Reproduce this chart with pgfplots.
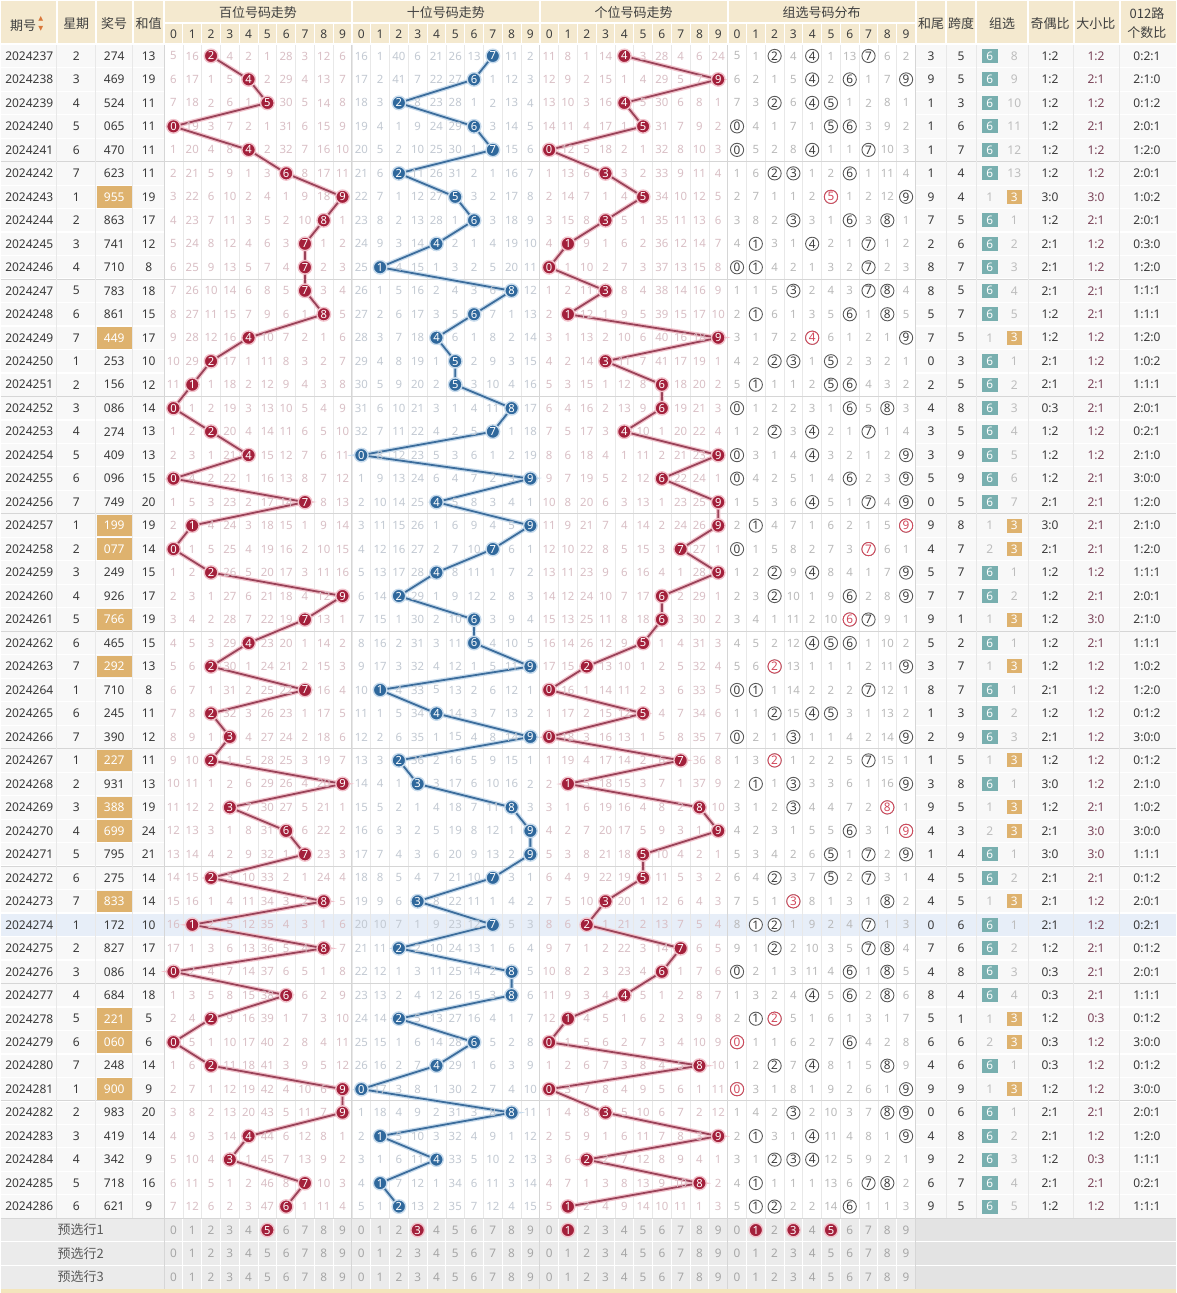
\documentclass[border=0pt]{standalone}
\usepackage{pgfplots}
\pgfplotsset{compat=1.18}
\usepackage{pgfplotstable}
\usepackage{fontspec}
\setmainfont{Noto Sans}
\newfontfamily\cjk{Noto Sans CJK SC}
\newfontfamily\dejavu{DejaVu Sans}

\definecolor{hdrbg}{HTML}{F4E9CF}
\definecolor{hdrtx}{HTML}{3F3F3F}
\definecolor{bodytx}{HTML}{3A3A3A}
\definecolor{bodybg}{HTML}{F8F8F8}
\definecolor{missR}{HTML}{D9BFC5}
\definecolor{missB}{HTML}{C2C9D2}
\definecolor{missG}{HTML}{B9B9B9}
\definecolor{ballR}{HTML}{A3203B}
\definecolor{haloR}{HTML}{F1C3CC}
\definecolor{lineR}{HTML}{9A4359}
\definecolor{ballB}{HTML}{2F689C}
\definecolor{haloB}{HTML}{C8DBEC}
\definecolor{lineB}{HTML}{3C6D9C}
\definecolor{teal6}{HTML}{78AFAF}
\definecolor{tan3}{HTML}{DEB26E}
\definecolor{gridc}{HTML}{E8E8E8}
\definecolor{sepc}{HTML}{D6D6D6}
\definecolor{hilite}{HTML}{E7EEF8}
\definecolor{bsc}{HTML}{7A4358}
\definecolor{presel}{HTML}{EBEBEB}
\definecolor{pretx}{HTML}{A6A6A6}
\definecolor{zcirc}{HTML}{5A5A5A}
\definecolor{zred}{HTML}{D2495C}
\definecolor{sortc}{HTML}{D9773A}
\definecolor{yline}{HTML}{F3E5BC}
\definecolor{blurbg}{HTML}{E3E3E3}
\definecolor{lbltx}{HTML}{5A5A5A}
\definecolor{mgray}{HTML}{BDBDBD}

\pgfdeclareplotmark{numbox}{\pgfpathrectangle{\pgfpoint{-8.8pt}{-5.4pt}}{\pgfpoint{17.6pt}{10.8pt}}\pgfusepathqfill}
\pgfdeclareplotmark{zbox}{\pgfpathrectangle{\pgfpoint{-3.9pt}{-3.5pt}}{\pgfpoint{7.8pt}{7pt}}\pgfusepathqfill}

\pgfplotsset{
 txt/.style={draw=none, mark=none, nodes near coords, point meta=explicit symbolic,
   nodes near coords align={center}, restrict y to domain=-5:60,
   every node near coord/.append style={anchor=center, inner sep=0pt, font=\fontsize{6.0}{6.0}\selectfont, text=bodytx}},
 fsz/.style={every node near coord/.append style={font=\fontsize{#1}{#1}\selectfont}},
 tcol/.style={every node near coord/.append style={text=#1}},
 balls/.style n args={3}{color=#1, line width=0.9pt, mark=*, mark size=3.4pt,
   mark options={fill=#2, draw=#3, line width=0.7pt, solid},
   nodes near coords, point meta=explicit symbolic, nodes near coords align={center},
   every node near coord/.append style={anchor=center, inner sep=0pt, text=white, font=\bfseries\fontsize{5.6}{5.6}\selectfont}},
 halo/.style={color=#1, line width=2.2pt, mark=none},
}
\tikzset{
 hd/.style={font=\cjk\fontsize{6.5}{6.5}\selectfont, text=hdrtx, inner sep=0pt, anchor=center},
 hdd/.style={font=\fontsize{6.0}{6.0}\selectfont, text=hdrtx, inner sep=0pt, anchor=center},
 pre/.style={font=\fontsize{5.9}{5.9}\selectfont, text=pretx, inner sep=0pt, anchor=center},
}

\pgfplotstableread{
r id wd num sum h t u hw sp g m oe bs road
1 2024237 2 274 13 2 7 4 3 5 6 8 1:2 1:2 0:2:1
2 2024238 3 469 19 4 6 9 9 5 6 9 1:2 2:1 2:1:0
3 2024239 4 524 11 5 2 4 1 3 6 10 1:2 1:2 0:1:2
4 2024240 5 065 11 0 6 5 1 6 6 11 1:2 2:1 2:0:1
5 2024241 6 470 11 4 7 0 1 7 6 12 1:2 1:2 1:2:0
6 2024242 7 623 11 6 2 3 1 4 6 13 1:2 1:2 2:0:1
7 2024243 1 955 19 9 5 5 9 4 3 1 3:0 3:0 1:0:2
8 2024244 2 863 17 8 6 3 7 5 6 1 1:2 2:1 2:0:1
9 2024245 3 741 12 7 4 1 2 6 6 2 2:1 1:2 0:3:0
10 2024246 4 710 8 7 1 0 8 7 6 3 2:1 1:2 1:2:0
11 2024247 5 783 18 7 8 3 8 5 6 4 2:1 2:1 1:1:1
12 2024248 6 861 15 8 6 1 5 7 6 5 1:2 2:1 1:1:1
13 2024249 7 449 17 4 4 9 7 5 3 1 1:2 1:2 1:2:0
14 2024250 1 253 10 2 5 3 0 3 6 1 2:1 1:2 1:0:2
15 2024251 2 156 12 1 5 6 2 5 6 2 2:1 2:1 1:1:1
16 2024252 3 086 14 0 8 6 4 8 6 3 0:3 2:1 2:0:1
17 2024253 4 274 13 2 7 4 3 5 6 4 1:2 1:2 0:2:1
18 2024254 5 409 13 4 0 9 3 9 6 5 1:2 1:2 2:1:0
19 2024255 6 096 15 0 9 6 5 9 6 6 1:2 2:1 3:0:0
20 2024256 7 749 20 7 4 9 0 5 6 7 2:1 2:1 1:2:0
21 2024257 1 199 19 1 9 9 9 8 3 1 3:0 2:1 2:1:0
22 2024258 2 077 14 0 7 7 4 7 3 2 2:1 2:1 1:2:0
23 2024259 3 249 15 2 4 9 5 7 6 1 1:2 1:2 1:1:1
24 2024260 4 926 17 9 2 6 7 7 6 2 1:2 2:1 2:0:1
25 2024261 5 766 19 7 6 6 9 1 3 1 1:2 3:0 2:1:0
26 2024262 6 465 15 4 6 5 5 2 6 1 1:2 2:1 1:1:1
27 2024263 7 292 13 2 9 2 3 7 3 1 1:2 1:2 1:0:2
28 2024264 1 710 8 7 1 0 8 7 6 1 2:1 1:2 1:2:0
29 2024265 6 245 11 2 4 5 1 3 6 2 1:2 1:2 0:1:2
30 2024266 7 390 12 3 9 0 2 9 6 3 2:1 1:2 3:0:0
31 2024267 1 227 11 2 2 7 1 5 3 1 1:2 1:2 0:1:2
32 2024268 2 931 13 9 3 1 3 8 6 1 3:0 1:2 2:1:0
33 2024269 3 388 19 3 8 8 9 5 3 1 1:2 2:1 1:0:2
34 2024270 4 699 24 6 9 9 4 3 3 2 2:1 3:0 3:0:0
35 2024271 5 795 21 7 9 5 1 4 6 1 3:0 3:0 1:1:1
36 2024272 6 275 14 2 7 5 4 5 6 2 2:1 2:1 0:1:2
37 2024273 7 833 14 8 3 3 4 5 3 1 2:1 1:2 2:0:1
38 2024274 1 172 10 1 7 2 0 6 6 1 2:1 1:2 0:2:1
39 2024275 2 827 17 8 2 7 7 6 6 2 1:2 2:1 0:1:2
40 2024276 3 086 14 0 8 6 4 8 6 3 0:3 2:1 2:0:1
41 2024277 4 684 18 6 8 4 8 4 6 4 0:3 2:1 1:1:1
42 2024278 5 221 5 2 2 1 5 1 3 1 1:2 0:3 0:1:2
43 2024279 6 060 6 0 6 0 6 6 3 2 0:3 1:2 3:0:0
44 2024280 7 248 14 2 4 8 4 6 6 1 0:3 1:2 0:1:2
45 2024281 1 900 9 9 0 0 9 9 3 1 1:2 1:2 3:0:0
46 2024282 2 983 20 9 8 3 0 6 6 1 2:1 2:1 2:0:1
47 2024283 3 419 14 4 1 9 4 8 6 2 2:1 1:2 1:2:0
48 2024284 4 342 9 3 4 2 9 2 6 3 1:2 0:3 1:1:1
49 2024285 5 718 16 7 1 8 6 7 6 4 2:1 2:1 0:2:1
50 2024286 6 621 9 6 2 1 9 5 6 5 1:2 1:2 1:1:1
}\main

% hundreds omission (0 = drawn)
\pgfplotstableread{
r c0 c1 c2 c3 c4 c5 c6 c7 c8 c9
1 5 16 0 4 2 1 28 3 12 6
2 6 17 1 5 0 2 29 4 13 7
3 7 18 2 6 1 0 30 5 14 8
4 0 19 3 7 2 1 31 6 15 9
5 1 20 4 8 0 2 32 7 16 10
6 2 21 5 9 1 3 0 8 17 11
7 3 22 6 10 2 4 1 9 18 0
8 4 23 7 11 3 5 2 10 0 1
9 5 24 8 12 4 6 3 0 1 2
10 6 25 9 13 5 7 4 0 2 3
11 7 26 10 14 6 8 5 0 3 4
12 8 27 11 15 7 9 6 1 0 5
13 9 28 12 16 0 10 7 2 1 6
14 10 29 0 17 1 11 8 3 2 7
15 11 0 1 18 2 12 9 4 3 8
16 0 1 2 19 3 13 10 5 4 9
17 1 2 0 20 4 14 11 6 5 10
18 2 3 1 21 0 15 12 7 6 11
19 0 4 2 22 1 16 13 8 7 12
20 1 5 3 23 2 17 14 0 8 13
21 2 0 4 24 3 18 15 1 9 14
22 0 1 5 25 4 19 16 2 10 15
23 1 2 0 26 5 20 17 3 11 16
24 2 3 1 27 6 21 18 4 12 0
25 3 4 2 28 7 22 19 0 13 1
26 4 5 3 29 0 23 20 1 14 2
27 5 6 0 30 1 24 21 2 15 3
28 6 7 1 31 2 25 22 0 16 4
29 7 8 0 32 3 26 23 1 17 5
30 8 9 1 0 4 27 24 2 18 6
31 9 10 0 1 5 28 25 3 19 7
32 10 11 1 2 6 29 26 4 20 0
33 11 12 2 0 7 30 27 5 21 1
34 12 13 3 1 8 31 0 6 22 2
35 13 14 4 2 9 32 1 0 23 3
36 14 15 0 3 10 33 2 1 24 4
37 15 16 1 4 11 34 3 2 0 5
38 16 0 2 5 12 35 4 3 1 6
39 17 1 3 6 13 36 5 4 0 7
40 0 2 4 7 14 37 6 5 1 8
41 1 3 5 8 15 38 0 6 2 9
42 2 4 0 9 16 39 1 7 3 10
43 0 5 1 10 17 40 2 8 4 11
44 1 6 0 11 18 41 3 9 5 12
45 2 7 1 12 19 42 4 10 6 0
46 3 8 2 13 20 43 5 11 7 0
47 4 9 3 14 0 44 6 12 8 1
48 5 10 4 0 1 45 7 13 9 2
49 6 11 5 1 2 46 8 0 10 3
50 7 12 6 2 3 47 0 1 11 4
}\Hm

% tens omission
\pgfplotstableread{
r c0 c1 c2 c3 c4 c5 c6 c7 c8 c9
1 16 1 40 6 21 26 13 0 11 2
2 17 2 41 7 22 27 0 1 12 3
3 18 3 0 8 23 28 1 2 13 4
4 19 4 1 9 24 29 0 3 14 5
5 20 5 2 10 25 30 1 0 15 6
6 21 6 0 11 26 31 2 1 16 7
7 22 7 1 12 27 0 3 2 17 8
8 23 8 2 13 28 1 0 3 18 9
9 24 9 3 14 0 2 1 4 19 10
10 25 0 4 15 1 3 2 5 20 11
11 26 1 5 16 2 4 3 6 0 12
12 27 2 6 17 3 5 0 7 1 13
13 28 3 7 18 0 6 1 8 2 14
14 29 4 8 19 1 0 2 9 3 15
15 30 5 9 20 2 0 3 10 4 16
16 31 6 10 21 3 1 4 11 0 17
17 32 7 11 22 4 2 5 0 1 18
18 0 8 12 23 5 3 6 1 2 19
19 1 9 13 24 6 4 7 2 3 0
20 2 10 14 25 0 5 8 3 4 1
21 3 11 15 26 1 6 9 4 5 0
22 4 12 16 27 2 7 10 0 6 1
23 5 13 17 28 0 8 11 1 7 2
24 6 14 0 29 1 9 12 2 8 3
25 7 15 1 30 2 10 0 3 9 4
26 8 16 2 31 3 11 0 4 10 5
27 9 17 3 32 4 12 1 5 11 0
28 10 0 4 33 5 13 2 6 12 1
29 11 1 5 34 0 14 3 7 13 2
30 12 2 6 35 1 15 4 8 14 0
31 13 3 0 36 2 16 5 9 15 1
32 14 4 1 0 3 17 6 10 16 2
33 15 5 2 1 4 18 7 11 0 3
34 16 6 3 2 5 19 8 12 1 0
35 17 7 4 3 6 20 9 13 2 0
36 18 8 5 4 7 21 10 0 3 1
37 19 9 6 0 8 22 11 1 4 2
38 20 10 7 1 9 23 12 0 5 3
39 21 11 0 2 10 24 13 1 6 4
40 22 12 1 3 11 25 14 2 0 5
41 23 13 2 4 12 26 15 3 0 6
42 24 14 0 5 13 27 16 4 1 7
43 25 15 1 6 14 28 0 5 2 8
44 26 16 2 7 0 29 1 6 3 9
45 0 17 3 8 1 30 2 7 4 10
46 1 18 4 9 2 31 3 8 0 11
47 2 0 5 10 3 32 4 9 1 12
48 3 1 6 11 0 33 5 10 2 13
49 4 0 7 12 1 34 6 11 3 14
50 5 1 0 13 2 35 7 12 4 15
}\Tm

% units omission
\pgfplotstableread{
r c0 c1 c2 c3 c4 c5 c6 c7 c8 c9
1 11 8 1 14 0 3 28 4 6 24
2 12 9 2 15 1 4 29 5 7 0
3 13 10 3 16 0 5 30 6 8 1
4 14 11 4 17 1 0 31 7 9 2
5 0 12 5 18 2 1 32 8 10 3
6 1 13 6 0 3 2 33 9 11 4
7 2 14 7 1 4 0 34 10 12 5
8 3 15 8 0 5 1 35 11 13 6
9 4 0 9 1 6 2 36 12 14 7
10 0 1 10 2 7 3 37 13 15 8
11 1 2 11 0 8 4 38 14 16 9
12 2 0 12 1 9 5 39 15 17 10
13 3 1 13 2 10 6 40 16 18 0
14 4 2 14 0 11 7 41 17 19 1
15 5 3 15 1 12 8 0 18 20 2
16 6 4 16 2 13 9 0 19 21 3
17 7 5 17 3 0 10 1 20 22 4
18 8 6 18 4 1 11 2 21 23 0
19 9 7 19 5 2 12 0 22 24 1
20 10 8 20 6 3 13 1 23 25 0
21 11 9 21 7 4 14 2 24 26 0
22 12 10 22 8 5 15 3 0 27 1
23 13 11 23 9 6 16 4 1 28 0
24 14 12 24 10 7 17 0 2 29 1
25 15 13 25 11 8 18 0 3 30 2
26 16 14 26 12 9 0 1 4 31 3
27 17 15 0 13 10 1 2 5 32 4
28 0 16 1 14 11 2 3 6 33 5
29 1 17 2 15 12 0 4 7 34 6
30 0 18 3 16 13 1 5 8 35 7
31 1 19 4 17 14 2 6 0 36 8
32 2 0 5 18 15 3 7 1 37 9
33 3 1 6 19 16 4 8 2 0 10
34 4 2 7 20 17 5 9 3 1 0
35 5 3 8 21 18 0 10 4 2 1
36 6 4 9 22 19 0 11 5 3 2
37 7 5 10 0 20 1 12 6 4 3
38 8 6 0 1 21 2 13 7 5 4
39 9 7 1 2 22 3 14 0 6 5
40 10 8 2 3 23 4 0 1 7 6
41 11 9 3 4 0 5 1 2 8 7
42 12 0 4 5 1 6 2 3 9 8
43 0 1 5 6 2 7 3 4 10 9
44 1 2 6 7 3 8 4 5 0 10
45 0 3 7 8 4 9 5 6 1 11
46 1 4 8 0 5 10 6 7 2 12
47 2 5 9 1 6 11 7 8 3 0
48 3 6 0 2 7 12 8 9 4 1
49 4 7 1 3 8 13 9 10 0 2
50 5 0 2 4 9 14 10 11 1 3
}\Um

% group-selection distribution omission
\pgfplotstableread{
r c0 c1 c2 c3 c4 c5 c6 c7 c8 c9
1 5 1 0 4 0 1 13 0 6 2
2 6 2 1 5 0 2 0 1 7 0
3 7 3 0 6 0 0 1 2 8 1
4 0 4 1 7 1 0 0 3 9 2
5 0 5 2 8 0 1 1 0 10 3
6 1 6 0 0 1 2 0 1 11 4
7 2 7 1 1 2 0 1 2 12 0
8 3 8 2 0 3 1 0 3 0 1
9 4 0 3 1 0 2 1 0 1 2
10 0 0 4 2 1 3 2 0 2 3
11 1 1 5 0 2 4 3 0 0 4
12 2 0 6 1 3 5 0 1 0 5
13 3 1 7 2 0 6 1 2 1 0
14 4 2 0 0 1 0 2 3 2 1
15 5 0 1 1 2 0 0 4 3 2
16 0 1 2 2 3 1 0 5 0 3
17 1 2 0 3 0 2 1 0 1 4
18 0 3 1 4 0 3 2 1 2 0
19 0 4 2 5 1 4 0 2 3 0
20 1 5 3 6 0 5 1 0 4 0
21 2 0 4 7 1 6 2 1 5 0
22 0 1 5 8 2 7 3 0 6 1
23 1 2 0 9 0 8 4 1 7 0
24 2 3 0 10 1 9 0 2 8 0
25 3 4 1 11 2 10 0 0 9 1
26 4 5 2 12 0 0 0 1 10 2
27 5 6 0 13 1 1 1 2 11 0
28 0 0 1 14 2 2 2 0 12 1
29 1 1 0 15 0 0 3 1 13 2
30 0 2 1 0 1 1 4 2 14 0
31 1 3 0 1 2 2 5 0 15 1
32 2 0 1 0 3 3 6 1 16 0
33 3 1 2 0 4 4 7 2 0 1
34 4 2 3 1 5 5 0 3 1 0
35 5 3 4 2 6 0 1 0 2 0
36 6 4 0 3 7 0 2 0 3 1
37 7 5 1 0 8 1 3 1 0 2
38 8 0 0 1 9 2 4 0 1 3
39 9 1 0 2 10 3 5 0 0 4
40 0 2 1 3 11 4 0 1 0 5
41 1 3 2 4 0 5 0 2 0 6
42 2 0 0 5 1 6 1 3 1 7
43 0 1 1 6 2 7 0 4 2 8
44 1 2 0 7 0 8 1 5 0 9
45 0 3 1 8 1 9 2 6 1 0
46 1 4 2 0 2 10 3 7 0 0
47 2 0 3 1 0 11 4 8 1 0
48 3 1 0 0 0 12 5 9 2 1
49 4 0 1 1 1 13 6 0 0 2
50 5 0 0 2 2 14 0 1 1 3
}\Zm

% repeated digit (group-3 draws)
\pgfplotstableread{
r d
7 5
13 4
21 9
22 7
25 6
27 2
31 2
33 8
34 9
37 3
42 2
43 0
45 0
}\dup

% pre-selection row 1 (column index k = 10*group + digit)
\pgfplotstableread{
k d
5 5
13 3
21 1
31 1
33 3
35 5
}\pre

\begin{document}
\begin{tikzpicture}
\begin{axis}[width=588pt, height=646.5pt, scale only axis,
  xmin=0, xmax=1176, ymin=-1.3404, ymax=53.6809, y dir=reverse,
  hide axis, clip=false]

% ---------- backgrounds ----------
\fill[white] (axis cs:0,-1.3404) rectangle (axis cs:1176,53.6809);
\fill[hdrbg] (axis cs:0,-1.3404) rectangle (axis cs:1176,0.5);
\fill[bodybg] (axis cs:0,0.5) rectangle (axis cs:1176,50.5);
\fill[white] (axis cs:163.4,0.5) rectangle (axis cs:915.4,50.5);
\fill[hilite] (axis cs:0,37.5) rectangle (axis cs:1176,38.5);
\fill[presel] (axis cs:0,50.5) rectangle (axis cs:1176,53.5);
\fill[blurbg] (axis cs:915.4,50.5) rectangle (axis cs:1176,53.5);
\fill[yline] (axis cs:0,53.5) rectangle (axis cs:1176,53.6809);

% ---------- grid ----------
\pgfplotsinvokeforeach{1,...,52}{
  \draw[white, line width=0.6pt] (axis cs:0,{#1+0.5}) -- (axis cs:1176,{#1+0.5});
}
\pgfplotsinvokeforeach{1,...,39}{
  \draw[gridc, line width=0.3pt] (axis cs:{163.4+18.8*#1},0.5) -- (axis cs:{163.4+18.8*#1},50.5);
  \draw[white, line width=0.5pt] (axis cs:{163.4+18.8*#1},-0.404) -- (axis cs:{163.4+18.8*#1},0.5);
  \draw[white, line width=0.5pt] (axis cs:{163.4+18.8*#1},50.5) -- (axis cs:{163.4+18.8*#1},53.5);
}
\pgfplotsinvokeforeach{5,10,...,45}{
  \draw[sepc, line width=0.5pt] (axis cs:0,{#1+0.5}) -- (axis cs:1176,{#1+0.5});
}
\pgfplotsinvokeforeach{56,95,132,946,976,1028,1074,1120}{
  \draw[gridc, line width=0.5pt] (axis cs:#1,0.5) -- (axis cs:#1,50.5);
  \draw[white, line width=1pt] (axis cs:#1,-1.3404) -- (axis cs:#1,0.5);
}
\pgfplotsinvokeforeach{163.4,351.4,539.4,727.4,915.4}{
  \draw[sepc, line width=0.5pt] (axis cs:#1,0.5) -- (axis cs:#1,53.5);
  \draw[white, line width=1pt] (axis cs:#1,-1.3404) -- (axis cs:#1,0.5);
}
\draw[white, line width=0.8pt] (axis cs:163.4,-0.404) -- (axis cs:915.4,-0.404);
\draw[white, line width=0.8pt] (axis cs:0,0.5) -- (axis cs:1176,0.5);
\draw[sepc, line width=0.5pt] (axis cs:0,50.5) -- (axis cs:1176,50.5);

% ---------- header ----------
\node[hd] at (axis cs:26,-0.362) {期号\,{\dejavu\fontsize{3.2}{2.6}\selectfont\color{sortc}\shortstack{▲\\▼}}};
\node[hd] at (axis cs:75.5,-0.362) {星期};
\node[hd] at (axis cs:113.5,-0.362) {奖号};
\node[hd] at (axis cs:148,-0.362) {和值};
\node[hd] at (axis cs:257.4,-0.843) {百位号码走势};
\node[hd] at (axis cs:445.4,-0.843) {十位号码走势};
\node[hd] at (axis cs:633.4,-0.843) {个位号码走势};
\node[hd] at (axis cs:821.4,-0.843) {组选号码分布};
\node[hd] at (axis cs:931,-0.362) {和尾};
\node[hd] at (axis cs:961,-0.362) {跨度};
\node[hd] at (axis cs:1002,-0.362) {组选};
\node[hd] at (axis cs:1050,-0.362) {奇偶比};
\node[hd] at (axis cs:1096,-0.362) {大小比};
\node[hd] at (axis cs:1147,-0.787) {012路};
\node[hd] at (axis cs:1147,0.021) {个数比};
\pgfplotsinvokeforeach{0,...,9}{
  \node[hdd] at (axis cs:{172.8+18.8*#1},0.064) {#1};
  \node[hdd] at (axis cs:{360.8+18.8*#1},0.064) {#1};
  \node[hdd] at (axis cs:{548.8+18.8*#1},0.064) {#1};
  \node[hdd] at (axis cs:{736.8+18.8*#1},0.064) {#1};
  \node[pre] at (axis cs:{172.8+18.8*#1},51) {#1};
  \node[pre] at (axis cs:{360.8+18.8*#1},51) {#1};
  \node[pre] at (axis cs:{548.8+18.8*#1},51) {#1};
  \node[pre] at (axis cs:{736.8+18.8*#1},51) {#1};
  \node[pre] at (axis cs:{172.8+18.8*#1},52) {#1};
  \node[pre] at (axis cs:{360.8+18.8*#1},52) {#1};
  \node[pre] at (axis cs:{548.8+18.8*#1},52) {#1};
  \node[pre] at (axis cs:{736.8+18.8*#1},52) {#1};
  \node[pre] at (axis cs:{172.8+18.8*#1},53) {#1};
  \node[pre] at (axis cs:{360.8+18.8*#1},53) {#1};
  \node[pre] at (axis cs:{548.8+18.8*#1},53) {#1};
  \node[pre] at (axis cs:{736.8+18.8*#1},53) {#1};
}
\node[hd, text=lbltx] at (axis cs:80,51) {预选行1};
\node[hd, text=lbltx] at (axis cs:80,52) {预选行2};
\node[hd, text=lbltx] at (axis cs:80,53) {预选行3};

% ---------- omission numbers ----------
\pgfplotsinvokeforeach{0,...,9}{
  \addplot[txt, fsz=5.7, tcol=missR] table[x expr=172.8+18.8*#1, y expr=\thisrow{r}+1000*(\thisrow{c#1}<0.5), meta=c#1] {\Hm};
  \addplot[txt, fsz=5.7, tcol=missB] table[x expr=360.8+18.8*#1, y expr=\thisrow{r}+1000*(\thisrow{c#1}<0.5), meta=c#1] {\Tm};
  \addplot[txt, fsz=5.7, tcol=missR] table[x expr=548.8+18.8*#1, y expr=\thisrow{r}+1000*(\thisrow{c#1}<0.5), meta=c#1] {\Um};
  \addplot[txt, fsz=5.7, tcol=missG] table[x expr=736.8+18.8*#1, y expr=\thisrow{r}+1000*(\thisrow{c#1}<0.5), meta=c#1] {\Zm};
}

% ---------- trend lines ----------
\addplot[halo=haloR] table[x expr=172.8+18.8*\thisrow{h}, y=r] {\main};
\addplot[balls={lineR}{ballR}{haloR}] table[x expr=172.8+18.8*\thisrow{h}, y=r, meta=h] {\main};
\addplot[halo=haloB] table[x expr=360.8+18.8*\thisrow{t}, y=r] {\main};
\addplot[balls={lineB}{ballB}{haloB}] table[x expr=360.8+18.8*\thisrow{t}, y=r, meta=t] {\main};
\addplot[halo=haloR] table[x expr=548.8+18.8*\thisrow{u}, y=r] {\main};
\addplot[balls={lineR}{ballR}{haloR}] table[x expr=548.8+18.8*\thisrow{u}, y=r, meta=u] {\main};

% ---------- group-selection distribution circles ----------
\pgfplotsinvokeforeach{0,...,9}{
  \addplot[draw=none, mark=*, mark size=3.3pt, mark options={draw=zcirc, fill=white, line width=0.45pt},
    restrict y to domain=-5:60, nodes near coords={#1}, nodes near coords align={center},
    every node near coord/.append style={anchor=center, inner sep=0pt, text=bodytx, font=\fontsize{5.9}{5.9}\selectfont}]
    table[x expr=736.8+18.8*#1, y expr=\thisrow{r}+1000*(\thisrow{c#1}>0)] {\Zm};
}
\addplot[draw=none, mark=*, mark size=3.3pt, mark options={draw=zred, fill=white, line width=0.45pt},
    nodes near coords, point meta=explicit symbolic, nodes near coords align={center},
    every node near coord/.append style={anchor=center, inner sep=0pt, text=zred, font=\fontsize{5.9}{5.9}\selectfont}]
    table[x expr=736.8+18.8*\thisrow{d}, y=r, meta=d] {\dup};

% ---------- left text columns ----------
\addplot[txt] table[x expr=28.5, y=r, meta=id] {\main};
\addplot[txt] table[x expr=75.5, y=r, meta=wd] {\main};
\addplot[txt] table[x expr=113.5, y=r, meta=num] {\main};
\addplot[txt] table[x expr=148, y=r, meta=sum] {\main};
\addplot[txt, mark=numbox, mark options={fill=tan3}, tcol=white]
  table[x expr=113.5, y expr=\thisrow{r}+1000*(\thisrow{g}>4.5), meta=num] {\main};

% ---------- right text columns ----------
\addplot[txt] table[x expr=931, y=r, meta=hw] {\main};
\addplot[txt] table[x expr=961, y=r, meta=sp] {\main};
\addplot[txt] table[x expr=1050, y=r, meta=oe] {\main};
\addplot[txt, tcol=bsc] table[x expr=1096, y=r, meta=bs] {\main};
\addplot[txt] table[x expr=1147, y=r, meta=road] {\main};
% group selection column
\addplot[draw=none, mark=zbox, mark options={fill=teal6}, restrict y to domain=-5:60,
  nodes near coords={6}, nodes near coords align={center},
  every node near coord/.append style={anchor=center, inner sep=0pt, text=white, font=\fontsize{5.9}{5.9}\selectfont}]
  table[x expr=989.7, y expr=\thisrow{r}+1000*(\thisrow{g}<4.5)] {\main};
\addplot[txt, tcol=mgray] table[x expr=1014.3, y expr=\thisrow{r}+1000*(\thisrow{g}<4.5), meta=m] {\main};
\addplot[txt, tcol=mgray] table[x expr=989.7, y expr=\thisrow{r}+1000*(\thisrow{g}>4.5), meta=m] {\main};
\addplot[draw=none, mark=zbox, mark options={fill=tan3}, restrict y to domain=-5:60,
  nodes near coords={3}, nodes near coords align={center},
  every node near coord/.append style={anchor=center, inner sep=0pt, text=white, font=\fontsize{5.9}{5.9}\selectfont}]
  table[x expr=1014.3, y expr=\thisrow{r}+1000*(\thisrow{g}>4.5)] {\main};

% ---------- pre-selection row 1 picks ----------
\addplot[draw=none, mark=*, mark size=3.4pt, mark options={fill=ballR, draw=haloR, line width=0.7pt},
  nodes near coords, point meta=explicit symbolic, nodes near coords align={center},
  every node near coord/.append style={anchor=center, inner sep=0pt, text=white, font=\bfseries\fontsize{5.6}{5.6}\selectfont}]
  table[x expr=172.8+18.8*\thisrow{k}, y expr=51, meta=d] {\pre};

\end{axis}
\end{tikzpicture}
\end{document}
